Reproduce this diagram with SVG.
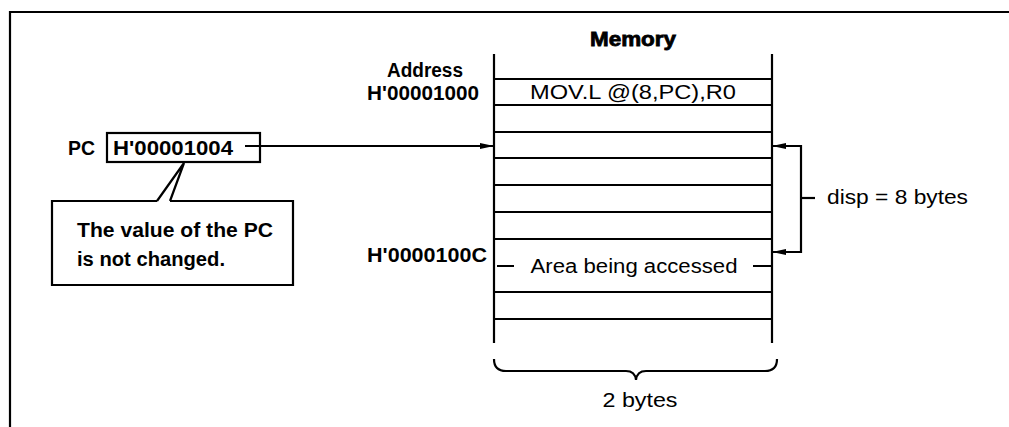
<svg xmlns="http://www.w3.org/2000/svg" width="1009" height="427" viewBox="0 0 1009 427">
<defs>
<style>
.ln{stroke:#000;stroke-width:2.2;fill:none}
.b{font-family:"Liberation Sans",Arial,sans-serif;font-weight:bold;font-size:20px;fill:#000}
.r{font-family:"Liberation Sans",Arial,sans-serif;font-size:20px;fill:#000}
</style>
<marker id="ah" viewBox="0 0 14 8" refX="14" refY="4" markerWidth="14" markerHeight="8" markerUnits="userSpaceOnUse" orient="auto-start-reverse">
<path d="M0,1 L14,4 L0,7 z" fill="#000"/>
</marker>
</defs>
<rect width="1009" height="427" fill="#fff"/>
<g id="frame">
<path class="ln" d="M10,427 V12 H1009" stroke-width="3"/>
</g>
<g id="memory">
<text class="b" x="633" y="46" text-anchor="middle" stroke="#000" stroke-width="0.8" textLength="86" lengthAdjust="spacingAndGlyphs">Memory</text>
<path class="ln" d="M494,54 V343 M772,54 V343"/>
<path class="ln" d="M494,79 H772 M494,105 H772 M494,132 H772 M494,158 H772 M494,185 H772 M494,212 H772 M494,239 H772 M494,292 H772 M494,319 H772"/>
<text class="r" x="633" y="99" text-anchor="middle" textLength="206" lengthAdjust="spacingAndGlyphs">MOV.L @(8,PC),R0</text>
<path class="ln" d="M497,266 H514 M753,266 H772"/>
<text class="r" x="634" y="273" text-anchor="middle" textLength="207" lengthAdjust="spacingAndGlyphs">Area being accessed</text>
</g>
<g id="addresses">
<text class="b" x="425" y="77" text-anchor="middle" textLength="76" lengthAdjust="spacingAndGlyphs">Address</text>
<text class="b" x="423" y="100" text-anchor="middle" textLength="112" lengthAdjust="spacingAndGlyphs">H'00001000</text>
<text class="b" x="427" y="262" text-anchor="middle" textLength="120" lengthAdjust="spacingAndGlyphs">H'0000100C</text>
</g>
<g id="pc">
<text class="b" x="68" y="155" textLength="27" lengthAdjust="spacingAndGlyphs">PC</text>
<rect class="ln" x="107" y="133" width="153" height="29"/>
<text class="b" x="113" y="155" textLength="120" lengthAdjust="spacingAndGlyphs">H'00001004</text>
</g>
<g id="callout">
<path class="ln" d="M157,201 H52 V285 H293 V201 H170"/>
<path class="ln" d="M157,201 L184,163 L170,201" stroke-linejoin="miter"/>
<text class="b" x="77" y="237" textLength="196" lengthAdjust="spacingAndGlyphs">The value of the PC</text>
<text class="b" x="77" y="266" textLength="148" lengthAdjust="spacingAndGlyphs">is not changed.</text>
</g>
<g id="connectors">
<path class="ln" d="M245,146 H494" marker-end="url(#ah)"/>
<path class="ln" d="M772,146 H801 V252 H772" marker-start="url(#ah)" marker-end="url(#ah)"/>
<path class="ln" d="M801,198 H815"/>
</g>
<g id="disp">
<text class="r" x="827" y="204" textLength="141" lengthAdjust="spacingAndGlyphs">disp = 8 bytes</text>
</g>
<g id="brace">
<path class="ln" d="M494,359 Q494,371 506,371 H626 Q635,371 636,380 Q637,371 646,371 H765 Q777,371 777,359"/>
<text class="r" x="640" y="407" text-anchor="middle" textLength="75" lengthAdjust="spacingAndGlyphs">2 bytes</text>
</g>
</svg>
